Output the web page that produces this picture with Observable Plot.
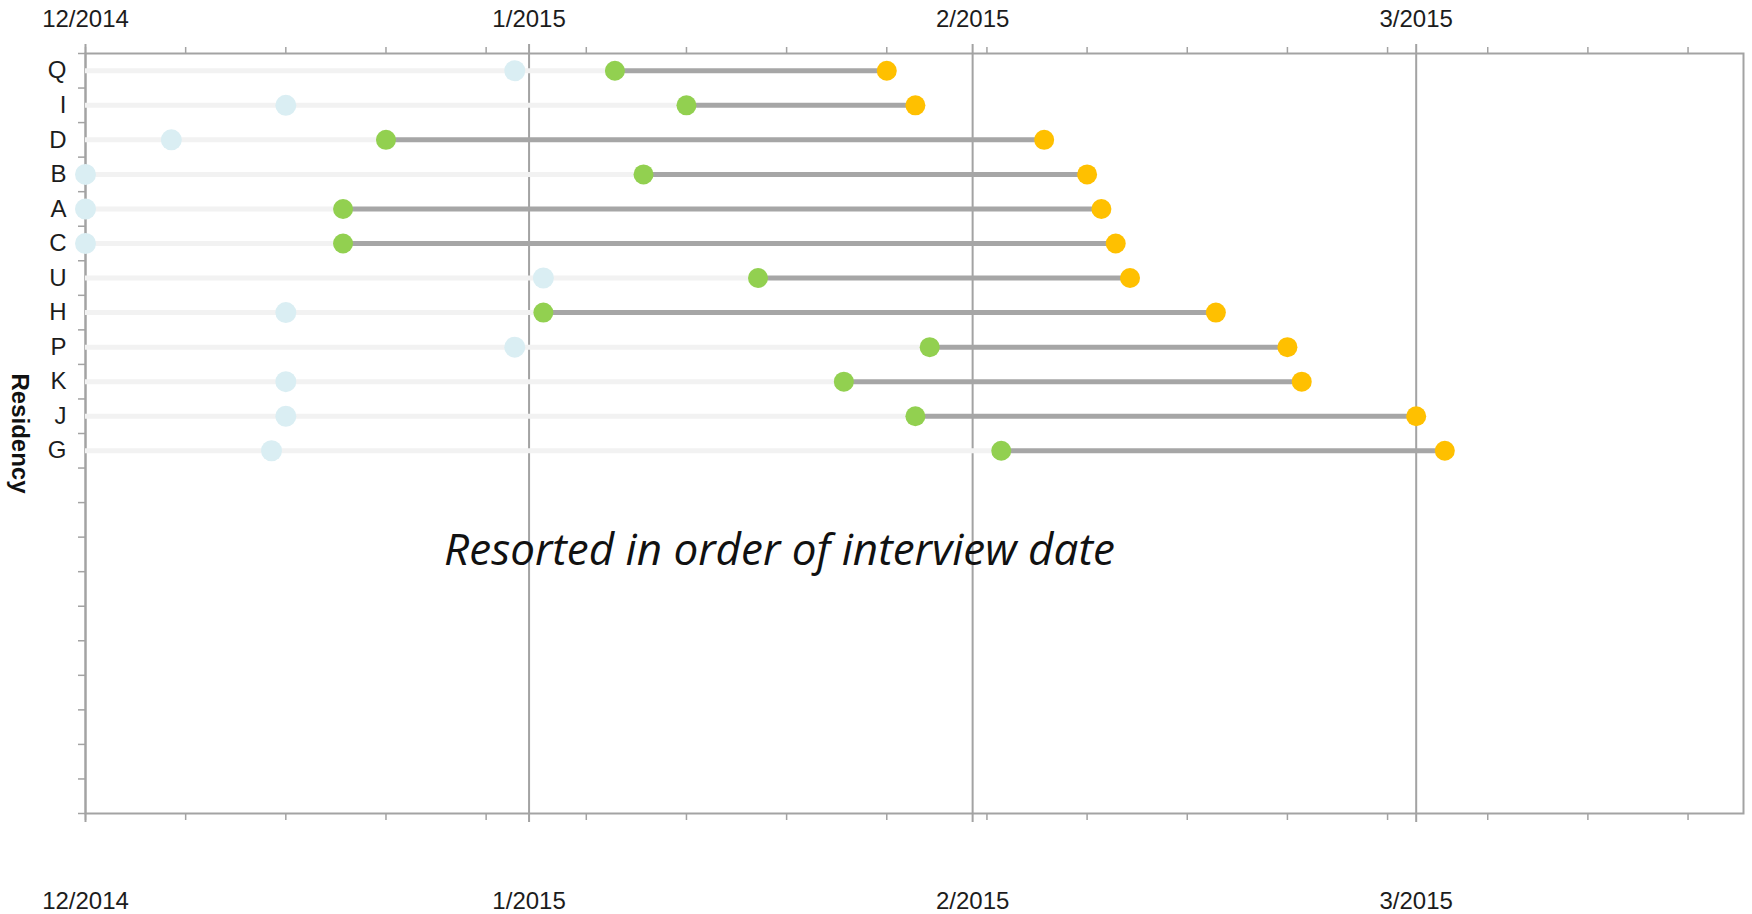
<!DOCTYPE html>
<html>
<head>
<meta charset="utf-8">
<script src="https://cdn.jsdelivr.net/npm/d3@7"></script>
<script src="https://cdn.jsdelivr.net/npm/@observablehq/plot@0.6"></script>
<style>
  html, body { margin: 0; padding: 0; background: #ffffff; }
  #chart svg { display: block; }
</style>
</head>
<body>
<div id="chart"></div>
<script>
// ---- Data ----
const residencies = ["Q", "I", "D", "B", "A", "C", "U", "H", "P", "K", "J", "G"];
const firstDates = ["2014-12-31", "2014-12-15", "2014-12-07", "2014-12-01", "2014-12-01", "2014-12-01",
                    "2015-01-02", "2014-12-15", "2014-12-31", "2014-12-15", "2014-12-15", "2014-12-14"];
const startDates = ["2015-01-07", "2015-01-12", "2014-12-22", "2015-01-09", "2014-12-19", "2014-12-19",
                    "2015-01-17", "2015-01-02", "2015-01-29", "2015-01-23", "2015-01-28", "2015-02-03"];
const interviewDates = ["2015-01-26", "2015-01-28", "2015-02-06", "2015-02-09", "2015-02-10", "2015-02-11",
                        "2015-02-12", "2015-02-18", "2015-02-23", "2015-02-24", "2015-03-04", "2015-03-06"];

// axis
const axisStart = "2014-12-01";
const axisEnd = "2015-03-26T21:00";
const rowSlots = 22;
const monthTicks = ["2014-12-01", "2015-01-01", "2015-02-01", "2015-03-04"];
const monthLabels = ["12/2014", "1/2015", "2/2015", "3/2015"];
const weekTicks = ["2014-12-01", "2014-12-08", "2014-12-15", "2014-12-22", "2014-12-29",
                   "2015-01-05", "2015-01-12", "2015-01-19", "2015-01-26",
                   "2015-02-02", "2015-02-09", "2015-02-16", "2015-02-23",
                   "2015-03-02", "2015-03-09", "2015-03-16", "2015-03-23"];
const yAxisTitle = "Residency";
const noteText = "Resorted in order of interview date";
const noteDate = "2015-01-18T12:00";
const noteRow = 14.4;

// ---- Build ----
function toDate(s) { return new Date(s.length === 10 ? s + "T00:00:00Z" : s + ":00Z"); }

const data = residencies.map((name, i) => ({
  name,
  row: i + 0.5,
  first: toDate(firstDates[i]),
  start: toDate(startDates[i]),
  interview: toDate(interviewDates[i])
}));
const x0 = toDate(axisStart);
const grey = "#a3a3a3";
const font = "'Liberation Sans', Arial, sans-serif";

const chart = Plot.plot({
  width: 1752,
  height: 914,
  marginLeft: 85,
  marginRight: 9,
  marginTop: 53,
  marginBottom: 101,
  style: { fontFamily: font, fontSize: "24px", color: "#1c1c1c", background: "#ffffff" },
  x: { type: "utc", domain: [toDate(axisStart), toDate(axisEnd)] },
  y: { domain: [0, rowSlots], reverse: true },
  marks: [
    Plot.ruleX(monthTicks.map(toDate), { stroke: grey, strokeWidth: 2, insetTop: -9, insetBottom: -9 }),
    Plot.frame({ stroke: grey, strokeWidth: 2 }),
    Plot.axisX(weekTicks.map(toDate), { anchor: "top", tickSize: 7, tickFormat: () => "", stroke: grey, strokeWidth: 1.5, label: null }),
    Plot.axisX(weekTicks.map(toDate), { anchor: "bottom", tickSize: 7, tickFormat: () => "", stroke: grey, strokeWidth: 1.5, label: null }),
    Plot.axisX(monthTicks.map(toDate), { anchor: "top", tickSize: 0, tickPadding: 27, tickFormat: (d, i) => monthLabels[i], label: null }),
    Plot.axisX(monthTicks.map(toDate), { anchor: "bottom", tickSize: 0, tickPadding: 78, tickFormat: (d, i) => monthLabels[i], label: null }),
    Plot.axisY(d3.range(0, rowSlots + 1), { tickSize: 7, tickFormat: () => "", stroke: grey, strokeWidth: 1.5, label: null }),
    Plot.axisY(data.map(d => d.row), { tickSize: 0, tickPadding: 19, tickFormat: (d, i) => residencies[i], label: null }),
    Plot.text([yAxisTitle], { frameAnchor: "left", textAnchor: "middle", dx: -66, rotate: 90, fontWeight: "bold", fontSize: 24, fill: "#111" }),
    Plot.ruleY(data, { y: "row", x1: () => x0, x2: "start", stroke: "#f2f2f2", strokeWidth: 5 }),
    Plot.ruleY(data, { y: "row", x1: "start", x2: "interview", stroke: "#a6a6a6", strokeWidth: 5 }),
    Plot.dot(data, { x: "first", y: "row", r: 10.5, fill: "#daeef3" }),
    Plot.dot(data, { x: "start", y: "row", r: 10, fill: "#92d050" }),
    Plot.dot(data, { x: "interview", y: "row", r: 10, fill: "#ffc000" }),
    Plot.text([noteText], { x: () => toDate(noteDate), y: () => noteRow, fontStyle: "italic", fontSize: 44, fontFamily: "'Open Sans', sans-serif", fill: "#111" })
  ]
});
document.getElementById("chart").appendChild(chart);
</script>
</body>
</html>
